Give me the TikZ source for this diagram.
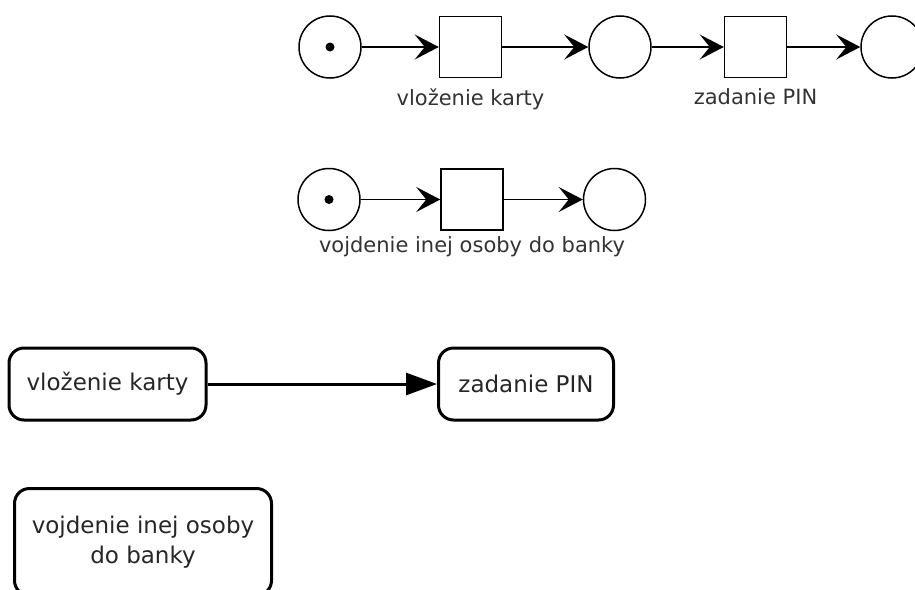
\documentclass[tikz,border=0pt]{standalone}
\usepackage{fontspec}
\setmainfont{DejaVu Sans}
\usetikzlibrary{arrows.meta,positioning}

\begin{document}
\begin{tikzpicture}[x=1pt, y=-1pt,
  place/.style={draw, circle, line width=1.5pt, minimum size=62pt, inner sep=0pt},
  trans/.style={draw, rectangle, line width=1.5pt, minimum width=62pt, minimum height=61pt, inner sep=0pt},
  token/.style={fill, circle, inner sep=0pt, minimum size=9pt},
  lbl/.style={font=\fontsize{21}{25}\selectfont, text=black!80, inner sep=0pt},
  arc/.style={-{Stealth[length=24pt, width=25pt, inset=10pt]}, line width=1.5pt},
  act/.style={draw, rounded corners=15pt, line width=3pt, align=center, inner sep=0pt, font=\fontsize{23}{30}\selectfont, text=black!85},
  flow/.style={-{Triangle[length=31pt, width=22pt]}, line width=3pt}
]
\useasboundingbox (0,0) rectangle (915,589);
\clip (0,0) rectangle (915,589);

% Petri net: card and PIN
\node[place] (p1) at (330,47) {};
\node[token] (k1) at (p1) {};
\node[trans] (s1) at (470.5,47) {};
\node[place] (p2) at (620,47) {};
\node[trans] (s2) at (755.5,47) {};
\node[place] (p3) at (892,47) {};

\draw[arc] (p1) -- (s1);
\draw[arc] (s1) -- (p2);
\draw[arc] (p2) -- (s2);
\draw[arc] (s2) -- (p3);

\node[lbl, below=10pt of s1] (l1) {vloženie karty};
\node[lbl, below=10pt of s2] (l2) {zadanie PIN};

% Petri net: other person
\node[place] (q1) at (329,199.5) {};
\node[token] (k2) at (q1) {};
\node[trans] (r1) at (472,199.5) {};
\node[place] (q2) at (614.5,199.5) {};

\draw[arc] (q1) -- (r1);
\draw[arc] (r1) -- (q2);

\node[lbl, below=6pt of r1] (l3) {vojdenie inej osoby do banky};

% Activities
\node[act, minimum width=197pt, minimum height=72pt] (a1) at (107.5,384) {vloženie karty};
\node[act, minimum width=175pt, minimum height=72pt] (a2) at (526,384) {zadanie PIN};
\draw[flow] (a1) -- (a2);

\node[act, minimum width=257pt, minimum height=107pt] (a3) at (143,542) {vojdenie inej osoby\\do banky};
\end{tikzpicture}
\end{document}
